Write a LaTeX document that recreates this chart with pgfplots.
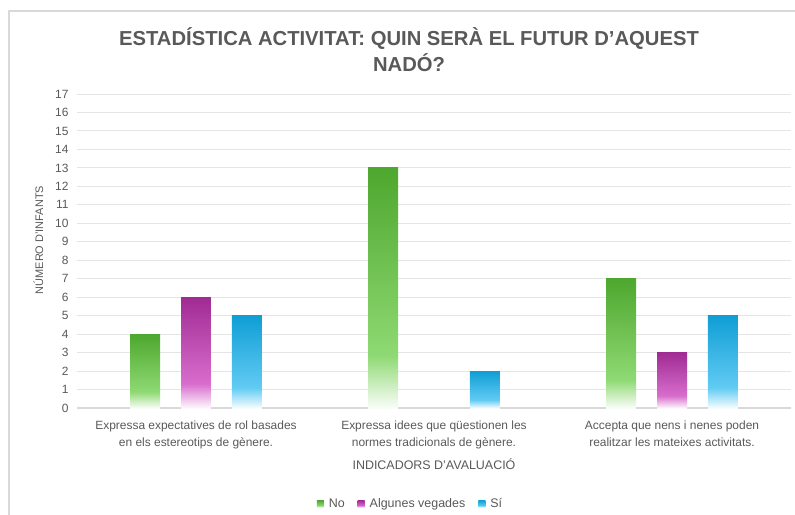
\documentclass[border=0pt]{standalone}
\usepackage{fontspec}
\setmainfont{Liberation Sans}
\usepackage{pgfplots}
\pgfplotsset{compat=1.18}
\definecolor{txt}{HTML}{595959}
\definecolor{gD}{HTML}{4EA72E}\definecolor{gL}{HTML}{8ED973}
\definecolor{pD}{HTML}{A02B93}\definecolor{pL}{HTML}{D86DCD}
\definecolor{bD}{HTML}{0F9ED5}\definecolor{bL}{HTML}{61CBF3}
\pgfdeclareverticalshading{gshade}{100bp}{color(0bp)=(gL!5!white); color(25bp)=(gL!5!white); color(36bp)=(gL); color(75bp)=(gD); color(100bp)=(gD)}
\pgfdeclareverticalshading{pshade}{100bp}{color(0bp)=(pL!5!white); color(25bp)=(pL!5!white); color(36bp)=(pL); color(75bp)=(pD); color(100bp)=(pD)}
\pgfdeclareverticalshading{bshade}{100bp}{color(0bp)=(bL!5!white); color(25bp)=(bL!5!white); color(36bp)=(bL); color(75bp)=(bD); color(100bp)=(bD)}
\begin{document}
\begin{tikzpicture}
\path[use as bounding box] (0bp,0bp) rectangle (795bp,-515bp);
\draw[black!15, line width=1.2bp] (9bp,-515bp) -- (9bp,-11bp) -- (795bp,-11bp);
\node[text=txt, font=\bfseries\fontsize{20.3}{26}\selectfont, align=center] at (409bp,-50bp) {ESTADÍSTICA ACTIVITAT: QUIN SERÀ EL FUTUR D’AQUEST\\NADÓ?};
\begin{axis}[
  at={(77bp,-408bp)}, anchor=south west,
  scale only axis, width=714bp, height=314bp,
  xmin=-0.5, xmax=2.5, ymin=0, ymax=17,
  ytick={0,...,17}, xtick={0,1,2},
  xticklabels={{Expressa expectatives de rol basades\\en els estereotips de gènere.},
               {Expressa idees que qüestionen les\\normes tradicionals de gènere.},
               {Accepta que nens i nenes poden\\realitzar les mateixes activitats.}},
  xticklabel style={align=center, text=txt, font=\fontsize{12}{17}\selectfont, yshift=-9bp},
  yticklabel style={text=txt, font=\fontsize{12}{14}\selectfont, xshift=-5bp},
  /pgf/number format/assume math mode=true,
  tick style={draw=none}, major tick length=0pt,
  axis x line*=bottom, axis y line*=left,
  x axis line style={draw=black!15, line width=1.5bp, -},
  y axis line style={draw=none},
  ymajorgrids, grid style={draw=black!10, line width=0.9bp},
  xlabel={INDICADORS D’AVALUACIÓ}, ylabel={NÚMERO D’INFANTS},
  xlabel style={text=txt, font=\fontsize{12.5}{14}\selectfont, yshift=-3bp},
  ylabel style={text=txt, font=\fontsize{11}{13}\selectfont, yshift=5bp, xshift=11bp},
  ybar, bar width=0.126,
  legend style={at={(0.467,-0.305)}, anchor=center, draw=none, legend columns=3,
    font=\fontsize{12.5}{14}\selectfont, text=txt,
    /tikz/every odd column/.append style={column sep=3bp},
    /tikz/every even column/.append style={column sep=11bp}},
  legend image code/.code={\path[#1] (0bp,-3.5bp) rectangle (7bp,3.5bp);},
]
\addplot[draw=none, shading=gshade, bar shift=-0.214] coordinates {(0,4)};
\addplot[draw=none, shading=pshade, bar shift=0] coordinates {(0,6)};
\addplot[draw=none, shading=bshade, bar shift=0.214] coordinates {(0,5)};
\addplot[draw=none, shading=gshade, bar shift=-0.214, forget plot] coordinates {(1,13)};
\addplot[draw=none, shading=gshade, bar shift=-0.214, forget plot] coordinates {(2,7)};
\addplot[draw=none, shading=pshade, bar shift=0, forget plot] coordinates {(2,3)};
\addplot[draw=none, shading=bshade, bar shift=0.214, forget plot] coordinates {(1,2)};
\addplot[draw=none, shading=bshade, bar shift=0.214, forget plot] coordinates {(2,5)};
\legend{No, Algunes vegades, Sí}
\end{axis}
\end{tikzpicture}
\end{document}
